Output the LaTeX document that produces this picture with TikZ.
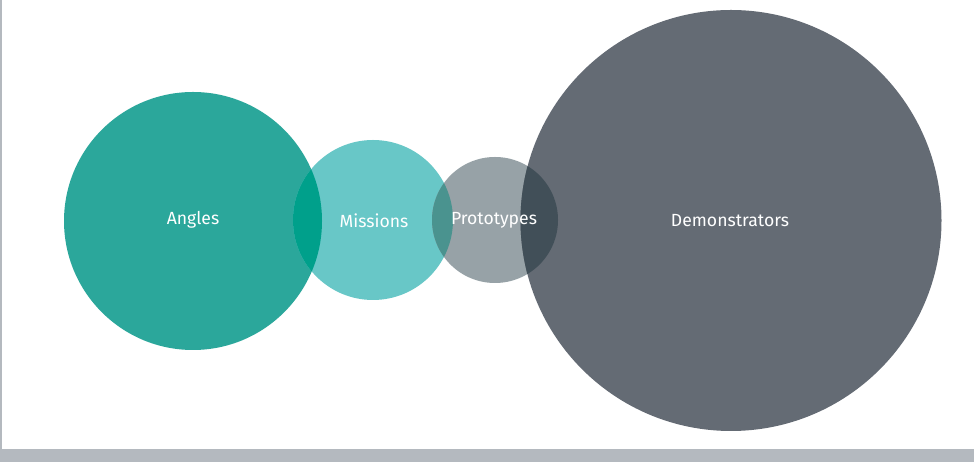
\documentclass[tikz,border=0pt]{standalone}
\usepackage{fontspec}
\setmainfont{Fira Sans}
\usepackage{xcolor}
\definecolor{t1}{HTML}{2BA79B}
\definecolor{t2}{HTML}{68C7C7}
\definecolor{g1}{HTML}{97A2A7}
\definecolor{g2}{HTML}{646B74}
\definecolor{t12}{HTML}{00A08B}
\definecolor{t2g1}{HTML}{4A938F}
\definecolor{g12}{HTML}{414F58}
\definecolor{edge}{HTML}{B4B9BF}

\tikzset{
	lbl/.style = {text=white, font=\fontsize{17.6}{20}\selectfont, inner sep=0pt}
}

\begin{document}
\begin{tikzpicture}[x=1pt,y=1pt]
	\useasboundingbox (0,0) rectangle (974,462);
	\fill [white] (0,0) rectangle (974,462);
	\fill [edge] (0,0) rectangle (974,13);
	\fill [edge] (0,13) rectangle (2,462);
	\begin{scope}
	% circles
	\fill [t1] (193,241) circle (129pt);
	\fill [t2] (373,242) circle (80pt);
	\fill [g1] (495,242) circle (63pt);
	\fill [g2] (731,241.5) circle (210.5pt);
	% overlaps
	\begin{scope}
		\clip (193,241) circle (129pt);
		\fill [t12] (373,242) circle (80pt);
	\end{scope}
	\begin{scope}
		\clip (373,242) circle (80pt);
		\fill [t2g1] (495,242) circle (63pt);
	\end{scope}
	\begin{scope}
		\clip (495,242) circle (63pt);
		\fill [g12] (731,241.5) circle (210.5pt);
	\end{scope}
	% labels
	\node [lbl] (angles) at (193,242) {Angles};
	\node [lbl] (missions) at (374,241) {Missions};
	\node [lbl] (prototypes) at (494,242) {Prototypes};
	\node [lbl] (demonstrators) at (730,241) {Demonstrators};
	\end{scope}
\end{tikzpicture}
\end{document}
